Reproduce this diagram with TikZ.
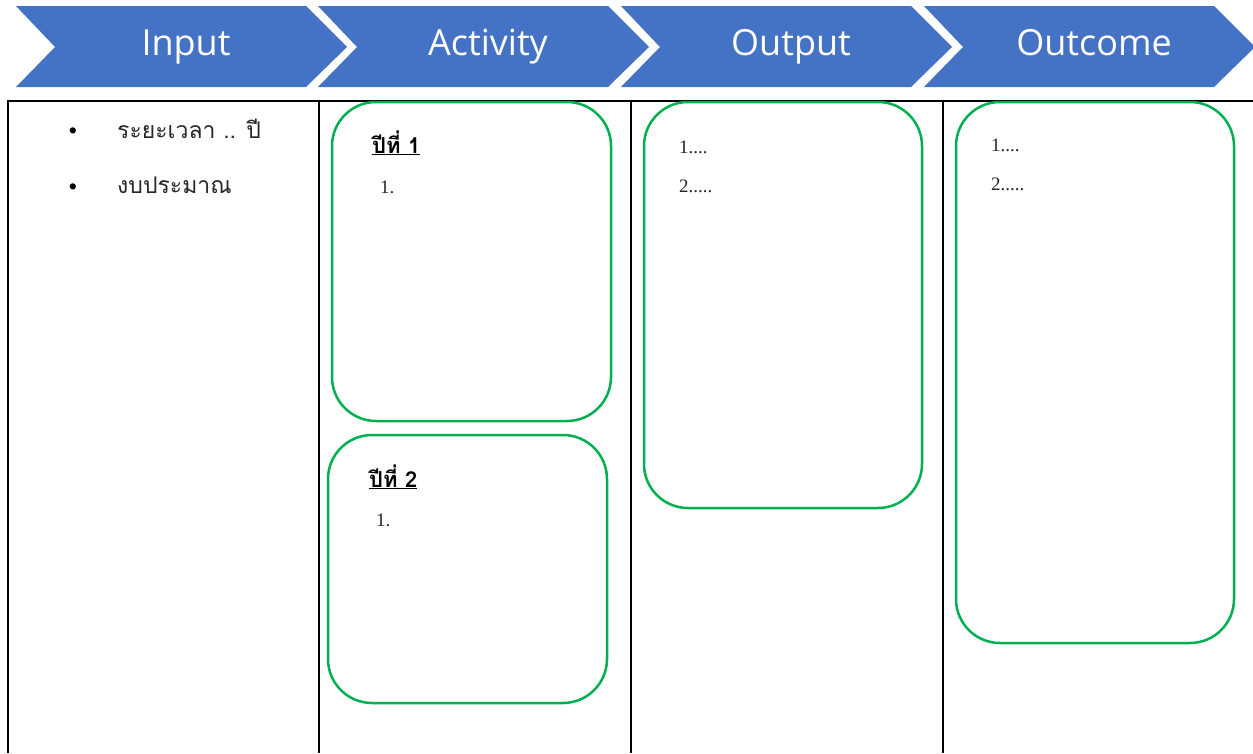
\documentclass[tikz,border=0pt]{standalone}
\usepackage{fontspec}
\newfontfamily\headfont{Open Sans}
\newfontfamily\thaifont[Script=Thai]{Loma}
\newfontfamily\numfont{Liberation Serif}
\definecolor{chevblue}{HTML}{4472C4}
\definecolor{boxgreen}{HTML}{00B050}
\tikzset{
  chev/.style={fill=chevblue, draw=none},
  headtxt/.style={text=white, font=\headfont\fontsize{36}{40}\selectfont, anchor=base, inner sep=0pt},
  gridline/.style={line width=2pt, draw=black},
  gbox/.style={draw=boxgreen, line width=2.5pt, rounded corners=44pt, inner sep=0pt, outer sep=0pt},
  thaitxt/.style={font=\thaifont\fontsize{23}{27}\selectfont, anchor=base west, inner sep=0pt, text=black!85},
  yeartxt/.style={font=\thaifont\bfseries\fontsize{22}{26}\selectfont, anchor=base west, inner sep=0pt, text=black},
  numtxt/.style={font=\numfont\fontsize{19}{22}\selectfont, anchor=base west, inner sep=0pt, text=black!85},
  bullettxt/.style={font=\numfont\fontsize{26}{30}\selectfont, anchor=center, inner sep=0pt, text=black}
}
\begin{document}
\begin{tikzpicture}[x=1pt,y=-1pt]
\useasboundingbox (0,0) rectangle (1253,753);
\fill[white] (0,0) rectangle (1253,753);
% chevrons
\foreach \L/\nm/\txt in {16/in/Input, 318/act/Activity, 621/out/Output, 924/oc/Outcome} {
  \fill[chev] (\L,6) -- ++(290,0) -- ++(41,41) -- ++(-41,40) -- ++(-290,0) -- ++(39,-40) -- cycle;
  \node[headtxt] (h\nm) at (\L+170,55) {\txt};
}
% table
\draw[gridline] (8,101) -- (1253,101);
\draw[gridline] (8,100) -- (8,753);
\draw[gridline] (319,100) -- (319,753);
\draw[gridline] (631,100) -- (631,753);
\draw[gridline] (943,100) -- (943,753);
% green boxes
\node[gbox, minimum width=279pt, minimum height=319pt] (act1) at (471.5,261.5) {};
\node[gbox, minimum width=279pt, minimum height=268pt] (act2) at (467.5,569) {};
\node[gbox, minimum width=278pt, minimum height=406pt] (outb) at (783,305) {};
\node[gbox, minimum width=278pt, minimum height=541pt] (ocb) at (1095,372.5) {};
% input column
\node[bullettxt] (b1) at (73,134) {•};
\node[thaitxt] (t1) at (117,138) {ระยะเวลา .. ปี};
\node[bullettxt] (b2) at (73,190) {•};
\node[thaitxt] (t2) at (117,193) {งบประมาณ};
% activity
\node[yeartxt] (y1) at (372,153) {\underline{ปีที่ 1}};
\node[numtxt] (a1) at (380,193) {1.};
\node[yeartxt] (y2) at (369,487) {\underline{ปีที่ 2}};
\node[numtxt] (a2) at (376,526) {1.};
% output
\node[numtxt] (o1) at (679,153) {1....};
\node[numtxt] (o2) at (679,192) {2.....};
% outcome
\node[numtxt] (c1) at (991,151) {1....};
\node[numtxt] (c2) at (991,190) {2.....};
\end{tikzpicture}
\end{document}
